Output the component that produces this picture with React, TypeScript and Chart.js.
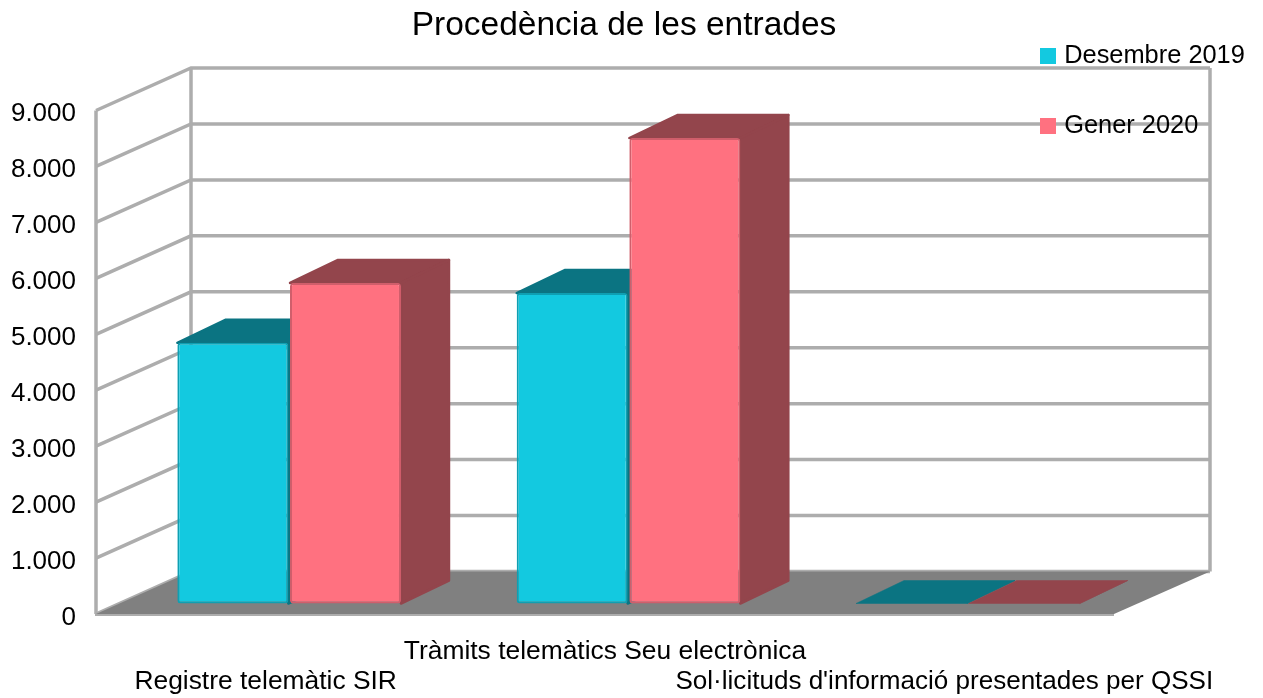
import React, { useEffect, useRef } from "react";
import { Chart, registerables } from "chart.js";

Chart.register(...registerables);

const categories: string[][] = [
  ["", "Registre telemàtic SIR"],
  ["Tràmits telemàtics Seu electrònica", ""],
  ["", "Sol·licituds d'informació presentades per QSSI"],
];
const seriesNames = ["Desembre 2019", "Gener 2020"];
const desembre2019 = [4660, 5550, 0];
const gener2020 = [5730, 8320, 0];
const titleText = "Procedència de les entrades";

const FONT = "'Liberation Sans', Arial, sans-serif";
const TEAL = "#13c9e0";
const TEAL_EDGE = "#0f9fb2";
const TEAL_DARK = "#0b7482";
const PINK = "#ff7180";
const PINK_EDGE = "#d05e6b";
const PINK_DARK = "#93454c";
const WALL = "#adadad";
const FLOOR = "#808080";

// 3D projection constants
const WALL_DX = 95;
const WALL_DY = -42.5;
const BAR_SHIFT_X = 23.5;
const BAR_SHIFT_Y = -10.5;
const BAR_DX = 48;
const BAR_DY = -23;
const LEGEND_PAD = 45;

function legendSwatch(color: string) {
  const c = document.createElement("canvas");
  c.width = 16;
  c.height = 16;
  const g = c.getContext("2d")!;
  g.fillStyle = color;
  g.fillRect(0, 0, 16, 16);
  return c;
}

const scene3d = {
  id: "scene3d",
  afterLayout(chart: any) {
    const t = chart.titleBlock;
    t.left = 0;
    t.right = 1248;
    const l = chart.legend;
    l.left = 1043.5 - LEGEND_PAD;
    l.right = 1262;
    l.top = 43 - LEGEND_PAD;
    l.bottom = 690;
  },
  beforeDraw(chart: any) {
    const { ctx } = chart;
    const y = chart.scales.y;
    const a = chart.chartArea;
    const ticks: number[] = y.ticks.map((t: any) => t.value);
    const backRight = a.right + WALL_DX + 1;
    ctx.save();
    ctx.strokeStyle = WALL;
    ctx.lineWidth = 3.5;
    ctx.lineJoin = "miter";
    ticks.forEach((v) => {
      const py = y.getPixelForValue(v);
      ctx.beginPath();
      ctx.moveTo(a.left, py);
      ctx.lineTo(a.left + WALL_DX, py + WALL_DY);
      ctx.lineTo(backRight, py + WALL_DY);
      ctx.stroke();
    });
    const top = y.getPixelForValue(9000);
    const zero = y.getPixelForValue(0);
    ctx.beginPath();
    ctx.moveTo(a.left, top);
    ctx.lineTo(a.left, zero);
    ctx.stroke();
    ctx.beginPath();
    ctx.moveTo(a.left + WALL_DX, top + WALL_DY);
    ctx.lineTo(a.left + WALL_DX, zero + WALL_DY);
    ctx.stroke();
    ctx.beginPath();
    ctx.moveTo(backRight, top + WALL_DY);
    ctx.lineTo(backRight, zero + WALL_DY);
    ctx.stroke();
    // floor
    ctx.beginPath();
    ctx.moveTo(a.left, zero);
    ctx.lineTo(a.right, zero);
    ctx.lineTo(backRight, zero + WALL_DY);
    ctx.lineTo(a.left + WALL_DX, zero + WALL_DY);
    ctx.closePath();
    ctx.fillStyle = FLOOR;
    ctx.fill();
    ctx.lineWidth = 2;
    ctx.beginPath();
    ctx.moveTo(a.left - 1, zero + 1);
    ctx.lineTo(a.right, zero + 1);
    ctx.stroke();
    ctx.restore();
  },
  beforeDatasetsDraw(chart: any) {
    const { ctx } = chart;
    ctx.save();
    ctx.translate(BAR_SHIFT_X, BAR_SHIFT_Y);
    const darks = [TEAL_DARK, PINK_DARK];
    chart.data.datasets.forEach((_d: any, i: number) => {
      const meta = chart.getDatasetMeta(i);
      meta.data.forEach((bar: any) => {
        const { x, y, base, width } = bar.getProps(["x", "y", "base", "width"], true);
        const l = x - width / 2;
        const r = x + width / 2;
        const flat = base - y < 1;
        ctx.fillStyle = darks[i];
        ctx.strokeStyle = darks[i];
        ctx.lineWidth = flat ? 0.5 : 2.5;
        ctx.lineJoin = "round";
        // top face
        ctx.beginPath();
        ctx.moveTo(l, y);
        ctx.lineTo(l + BAR_DX, y + BAR_DY);
        ctx.lineTo(r + BAR_DX, y + BAR_DY);
        ctx.lineTo(r, y);
        ctx.closePath();
        ctx.fill();
        ctx.stroke();
        // side face
        ctx.beginPath();
        ctx.moveTo(r, y);
        ctx.lineTo(r + BAR_DX, y + BAR_DY);
        ctx.lineTo(r + BAR_DX, base + BAR_DY);
        ctx.lineTo(r, base);
        ctx.closePath();
        ctx.fill();
        ctx.stroke();
      });
    });
  },
  afterDatasetsDraw(chart: any) {
    chart.ctx.restore();
  },
};

export default function App() {
  const ref = useRef<HTMLCanvasElement>(null);
  useEffect(() => {
    const swatches = [legendSwatch(TEAL), legendSwatch(PINK)];
    const chart = new Chart(ref.current!, {
      type: "bar",
      data: {
        labels: categories as any,
        datasets: [
          {
            label: seriesNames[0],
            data: desembre2019,
            backgroundColor: TEAL,
            borderColor: TEAL_EDGE,
          },
          {
            label: seriesNames[1],
            data: gener2020,
            backgroundColor: PINK,
            borderColor: PINK_EDGE,
          },
        ],
      },
      options: {
        responsive: false,
        animation: false,
        events: [],
        layout: { padding: { left: 0, right: 149, top: 0, bottom: 0 } },
        datasets: {
          bar: {
            categoryPercentage: 0.664,
            barPercentage: 0.985,
            clip: false,
            inflateAmount: 0,
            borderRadius: 3,
            borderSkipped: false,
            borderWidth: (c: any) => (c.raw > 0 ? 2 : 0),
          },
        },
        scales: {
          x: {
            afterFit: (s: any) => {
              s.height = 84;
            },
            grid: { display: false },
            border: { display: false },
            ticks: {
              autoSkip: false,
              maxRotation: 0,
              minRotation: 0,
              padding: 15,
              color: "#000",
              font: (c: any) => ({
                family: FONT,
                size: c.index === 2 ? 26.06 : 26.4,
                lineHeight: 1.136,
              }),
            },
          },
          y: {
            min: 0,
            max: 9000,
            afterFit: (s: any) => {
              s.width = 96;
            },
            grid: { display: false },
            border: { display: false },
            ticks: {
              stepSize: 1000,
              padding: 12,
              color: "#000",
              font: { family: FONT, size: 26, lineHeight: "7px" },
              callback: (v: any) => ["", Number(v).toLocaleString("de-DE")],
            },
          },
        },
        plugins: {
          tooltip: { enabled: false },
          title: {
            display: true,
            text: titleText,
            color: "#000",
            font: { family: FONT, size: 33.5, weight: "normal" },
            padding: { top: 6, bottom: 64.3 },
          },
          legend: {
            display: true,
            position: "chartArea",
            align: "start",
            labels: {
              usePointStyle: true,
              boxWidth: 8,
              boxHeight: 25,
              padding: LEGEND_PAD,
              color: "#000",
              font: { family: FONT, size: 25.4 },
              generateLabels: (c: any) =>
                c.data.datasets.map((d: any, i: number) => ({
                  text: d.label,
                  pointStyle: swatches[i],
                  fillStyle: d.backgroundColor,
                  strokeStyle: "transparent",
                  lineWidth: 0,
                  fontColor: "#000",
                  datasetIndex: i,
                })),
            },
          },
        },
      } as any,
      plugins: [scene3d as any],
    });
    return () => chart.destroy();
  }, []);
  return (
    <div style={{ position: "fixed", left: 0, top: 0, width: 1263, height: 698, background: "#fff" }}>
      <canvas ref={ref} width={1263} height={698} style={{ display: "block" }} />
    </div>
  );
}
